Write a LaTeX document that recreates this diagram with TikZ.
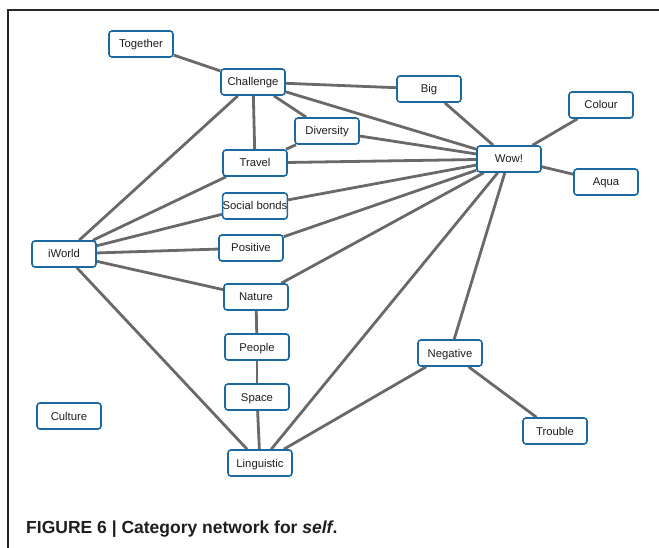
\documentclass[tikz,border=0pt]{standalone}
\usepackage{fontspec}
\setmainfont{Liberation Sans}
\usetikzlibrary{backgrounds}
\definecolor{nodeblue}{RGB}{28,104,160}
\definecolor{edgegray}{RGB}{105,105,105}
\definecolor{textgray}{RGB}{30,30,30}
\begin{document}
\begin{tikzpicture}[x=1pt,y=-1pt,
  cat/.style={draw=nodeblue, line width=1.6pt, rounded corners=3pt, fill=white,
    minimum width=64pt, minimum height=26pt, inner sep=0pt, text=textgray,
    text height=8pt, text depth=0pt,
    font=\fontsize{11.3}{13}\selectfont},
  link/.style={draw=edgegray, line width=2.8pt}]
\useasboundingbox (0,0) rectangle (659,548);
\draw[line width=1.2pt, color=black!85] (8,548) -- (8,10) -- (659,10);
\node[cat] (together) at (141,44) {Together};
\node[cat] (challenge) at (253,82) {Challenge};
\node[cat] (big) at (429,89) {Big};
\node[cat] (colour) at (601,105) {Colour};
\node[cat] (diversity) at (327,131) {Diversity};
\node[cat] (travel) at (255,163) {Travel};
\node[cat] (wow) at (509,159) {Wow!};
\node[cat] (aqua) at (606,182) {Aqua};
\node[cat] (social) at (255,206) {Social bonds};
\node[cat] (positive) at (251,248) {Positive};
\node[cat] (iworld) at (64,254) {iWorld};
\node[cat] (nature) at (256,297) {Nature};
\node[cat] (people) at (257,347) {People};
\node[cat] (space) at (257,397) {Space};
\node[cat] (culture) at (69,416) {Culture};
\node[cat] (negative) at (450,353) {Negative};
\node[cat] (trouble) at (555,431) {Trouble};
\node[cat] (linguistic) at (260,463) {Linguistic};
\begin{scope}[on background layer]
\foreach \a/\b in {together/challenge, challenge/big, challenge/wow, challenge/diversity,
  challenge/travel, challenge/iworld, diversity/travel, diversity/wow, travel/wow,
  travel/iworld, big/wow, colour/wow, aqua/wow, social/wow, social/iworld,
  positive/wow, positive/iworld, nature/iworld, nature/wow, nature/people,
  people/space, space/linguistic, iworld/linguistic, linguistic/wow,
  linguistic/negative, negative/wow, negative/trouble}
  \draw[link] (\a) -- (\b);
\end{scope}
\node[anchor=base west, inner sep=0pt, text=textgray, font=\fontsize{17.5}{20}\selectfont\bfseries] (caption) at (26,533) {FIGURE 6 | Category network for \textit{self}.};
\end{tikzpicture}
\end{document}
